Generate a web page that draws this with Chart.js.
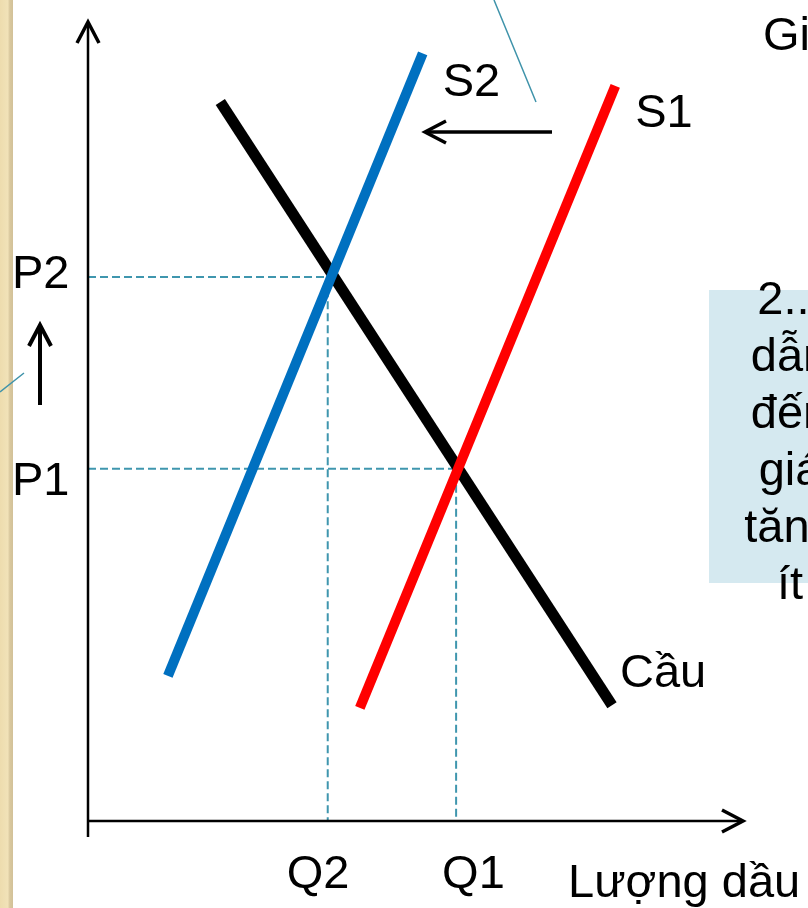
<!DOCTYPE html>
<html lang="vi">
<head>
<meta charset="utf-8">
<title>Cung và cầu dầu</title>
<script src="https://cdn.jsdelivr.net/npm/chart.js@4.4.1/dist/chart.umd.min.js"></script>
<style>
  html, body { margin: 0; padding: 0; background: #fff; overflow: hidden; }
  #wrap { position: relative; width: 808px; height: 908px; }
</style>
</head>
<body>
<div id="wrap"><canvas id="oilChart"></canvas></div>
<script>
// Curve endpoints (quantity, price)
const s1Quantity = [4.15, 8.05];
const s1Price = [1.70, 11.04];
const s2Quantity = [1.22, 5.11];
const s2Price = [2.18, 11.53];
const demandQuantity = [2.02, 8.00];
const demandPrice = [10.80, 1.74];

// Equilibria: index 0 = with S1, index 1 = with S2
const eqQLabels = ['Q1', 'Q2'];
const eqPLabels = ['P1', 'P2'];
const eqQuantity = [5.62, 3.66];
const eqPrice = [5.29, 8.17];

// Axis ranges
const qRange = [0, 10];
const pRange = [0, 12];

// Side note text
const noteLines = ['2...', 'dẫn', 'đến', 'giá', 'tăng', 'ít'];

const FONT = '47px "Liberation Sans", Arial, sans-serif';
const GUIDE = '#3f96ae';

function toPoints(xs, ys) {
    return xs.map((x, i) => ({ x: x, y: ys[i] }));
}

// Dashed guide from the price axis to the equilibrium and down to the quantity axis
function guide(i) {
    return {
        data: [
            { x: qRange[0], y: eqPrice[i] },
            { x: eqQuantity[i], y: eqPrice[i] },
            { x: eqQuantity[i], y: pRange[0] }
        ],
        borderColor: GUIDE,
        borderWidth: 2,
        borderDash: [8, 4],
        order: 10
    };
}

function curve(xs, ys, color, width) {
    return {
        data: toPoints(xs, ys),
        borderColor: color,
        borderWidth: width,
        borderCapStyle: 'butt',
        order: 1
    };
}

function chevron(ctx, tipX, tipY, dx, dy, size, spread) {
    // arms pointing back from the tip along (-dx,-dy)
    const nx = -dy, ny = dx;
    ctx.beginPath();
    ctx.moveTo(tipX - dx * size + nx * spread, tipY - dy * size + ny * spread);
    ctx.lineTo(tipX, tipY);
    ctx.lineTo(tipX - dx * size - nx * spread, tipY - dy * size - ny * spread);
    ctx.stroke();
}

function arrow(ctx, x1, y1, x2, y2, width) {
    const len = Math.hypot(x2 - x1, y2 - y1);
    const dx = (x2 - x1) / len, dy = (y2 - y1) / len;
    ctx.save();
    ctx.strokeStyle = '#000';
    ctx.lineWidth = width;
    ctx.lineJoin = 'miter';
    ctx.beginPath();
    ctx.moveTo(x1, y1);
    ctx.lineTo(x2 - dx * 2, y2 - dy * 2);
    ctx.stroke();
    chevron(ctx, x2, y2, dx, dy, 21, 11);
    ctx.restore();
}

const diagramPlugin = {
    id: 'diagram',
    beforeDraw(chart) {
        const ctx = chart.ctx;
        ctx.save();
        ctx.fillStyle = '#fff';
        ctx.fillRect(0, 0, chart.width, chart.height);

        // textured border strip on the left
        const g = ctx.createLinearGradient(0, 0, 13, 0);
        g.addColorStop(0, '#eddcae');
        g.addColorStop(0.6, '#f1e2b8');
        g.addColorStop(0.75, '#d9c89e');
        g.addColorStop(1, '#d2c198');
        ctx.fillStyle = g;
        ctx.fillRect(0, 0, 13, chart.height);

        // note box
        ctx.fillStyle = '#d5e9f0';
        ctx.fillRect(709, 290, chart.width - 709, 293);
        ctx.restore();
    },
    afterDraw(chart) {
        const ctx = chart.ctx;
        const area = chart.chartArea;
        const xs = chart.scales.x, ys = chart.scales.y;
        ctx.save();

        // axes
        ctx.strokeStyle = '#000';
        ctx.lineWidth = 2.5;
        ctx.beginPath();
        ctx.moveTo(area.left, area.bottom + 16);
        ctx.lineTo(area.left, area.top + 2);
        ctx.moveTo(area.left, area.bottom);
        ctx.lineTo(area.right - 2, area.bottom);
        ctx.stroke();
        ctx.lineWidth = 3.5;
        chevron(ctx, area.left, area.top, 0, -1, 21, 11);
        chevron(ctx, area.right, area.bottom, 1, 0, 21, 11);

        // shift arrows
        arrow(ctx, 552, 132, 425, 132, 3.5);
        arrow(ctx, 40, 405, 40, 325, 4);

        // callout pointers
        ctx.strokeStyle = '#3f93aa';
        ctx.lineWidth = 1.5;
        ctx.beginPath();
        ctx.moveTo(494, 0);
        ctx.lineTo(536, 102);
        ctx.moveTo(0, 392);
        ctx.lineTo(24, 373);
        ctx.stroke();

        // labels
        ctx.fillStyle = '#000';
        ctx.font = FONT;
        ctx.textAlign = 'left';
        ctx.textBaseline = 'alphabetic';

        const pOffsets = [26, 11];
        eqPLabels.forEach((t, i) => {
            ctx.fillText(t, 12, ys.getPixelForValue(eqPrice[i]) + pOffsets[i]);
        });
        const qOffsets = [-14, -41];
        eqQLabels.forEach((t, i) => {
            ctx.fillText(t, xs.getPixelForValue(eqQuantity[i]) + qOffsets[i], 888);
        });
        ctx.fillText('Lượng dầu', 568, 897);

        ctx.fillText('S2', xs.getPixelForValue(s2Quantity[1]) + 20, ys.getPixelForValue(s2Price[1]) + 43);
        ctx.fillText('S1', xs.getPixelForValue(s1Quantity[1]) + 20, ys.getPixelForValue(s1Price[1]) + 41);
        ctx.fillText('Cầu', xs.getPixelForValue(demandQuantity[1]) + 8, ys.getPixelForValue(demandPrice[1]) - 18);
        ctx.fillText('Gi', 763, 50);

        // note text, centred and running off the right edge
        ctx.textAlign = 'center';
        noteLines.forEach((t, i) => {
            ctx.fillText(t, 790, 314 + i * 57);
        });
        ctx.restore();
    }
};

new Chart(document.getElementById('oilChart'), {
    type: 'scatter',
    data: {
        datasets: [
            guide(0),
            guide(1),
            curve(s2Quantity, s2Price, '#0070c0', 10),
            curve(s1Quantity, s1Price, '#ff0000', 10),
            curve(demandQuantity, demandPrice, '#000000', 11)
        ]
    },
    options: {
        responsive: true,
        maintainAspectRatio: false,
        animation: false,
        showLine: true,
        elements: { point: { radius: 0, hoverRadius: 0 }, line: { tension: 0 } },
        layout: { padding: { left: 88, right: 65, top: 22, bottom: 87 } },
        scales: {
            x: { type: 'linear', display: false, min: qRange[0], max: qRange[1] },
            y: { type: 'linear', display: false, min: pRange[0], max: pRange[1] }
        },
        plugins: {
            legend: { display: false },
            tooltip: { enabled: false }
        }
    },
    plugins: [diagramPlugin]
});
</script>
</body>
</html>
